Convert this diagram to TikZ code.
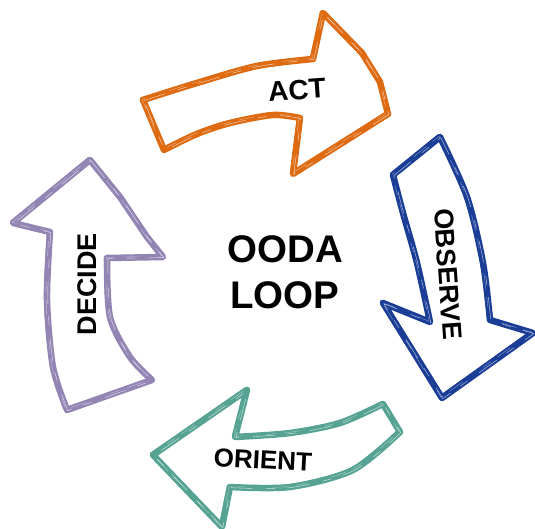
\documentclass[tikz,border=0pt]{standalone}
\usepackage{fontspec}
\setmainfont{Liberation Sans}
\definecolor{actc}{HTML}{DE6A12}
\definecolor{obsc}{HTML}{1A3D96}
\definecolor{oric}{HTML}{56A394}
\definecolor{decc}{HTML}{9285B3}
\newcommand{\sketchyarrow}[2]{%
  \draw[#1, line width=6.5pt, line join=round, line cap=round] #2;
  \draw[#1, line width=2.5pt, line join=round, shift={(-1.8,1.4)}] #2;
  \draw[white, line width=0.45pt, opacity=0.7, line join=round, dash pattern=on 22pt off 14pt on 9pt off 12pt, shift={(0.8,-0.6)}] #2;
  \draw[white, line width=0.35pt, opacity=0.5, line join=round, dash pattern=on 10pt off 25pt on 16pt off 8pt, dash phase=7pt, shift={(-0.9,0.7)}] #2;
}
\tikzset{
  lbl/.style={inner sep=0pt, font=\bfseries\fontsize{27}{30}\selectfont, text=black},
  ttl/.style={inner sep=0pt, anchor=base, font=\bfseries\fontsize{38.5}{46}\selectfont, text=black}
}
\begin{document}
\begin{tikzpicture}[x=1pt,y=1pt]
\useasboundingbox (0,0) rectangle (535,-529);
% ACT (orange)
\sketchyarrow{actc}{(143,-100) -- plot[smooth] coordinates {(143,-100) (197,-83) (257,-66) (313,-59)} -- (323,-13) -- (362,-53) -- (380,-82) -- (388,-114) -- (293,-174) -- (300,-118) -- plot[smooth] coordinates {(300,-118) (273,-115) (230,-123) (197,-134) (164,-150)} -- cycle}
% OBSERVE (blue)
\sketchyarrow{obsc}{(393,-175) -- (440,-137) -- plot[smooth] coordinates {(440,-137) (467,-197) (483,-263) (490,-320)} -- (533,-333) -- (442,-398) -- (383,-303) -- (430,-322) -- plot[smooth] coordinates {(430,-322) (417,-263) (403,-213) (393,-175)} -- cycle}
% ORIENT (teal)
\sketchyarrow{oric}{(383,-404) -- plot[smooth] coordinates {(383,-404) (340,-423) (290,-433) (235,-437)} -- (247,-390) -- (153,-455) -- (222,-527) -- (230,-487) -- plot[smooth] coordinates {(230,-487) (290,-487) (353,-470) (400,-432)} -- cycle}
% DECIDE (purple)
\sketchyarrow{decc}{(90,-160) -- (120,-197) -- (147,-237) -- (163,-257) -- (107,-258) -- plot[smooth] coordinates {(107,-258) (110,-317) (130,-357) (152,-380)} -- (67,-410) -- plot[smooth] coordinates {(67,-410) (53,-367) (47,-300) (50,-232)} -- (13,-223) -- cycle}
% labels
\node[lbl, font=\bfseries\fontsize{28}{30}\selectfont, rotate=4] (act) at (297,-90) {ACT};
\node[lbl, rotate=-86] (observe) at (448,-274) {OBSERVE};
\node[lbl, font=\bfseries\fontsize{26}{30}\selectfont, rotate=-3] (orient) at (263,-460) {ORIENT};
\node[lbl, rotate=90] (decide) at (87,-284) {DECIDE};
\node[ttl] (ooda) at (285.5,-262) {OODA};
\node[ttl] (loop) at (285,-308) {LOOP};
\end{tikzpicture}
\end{document}
